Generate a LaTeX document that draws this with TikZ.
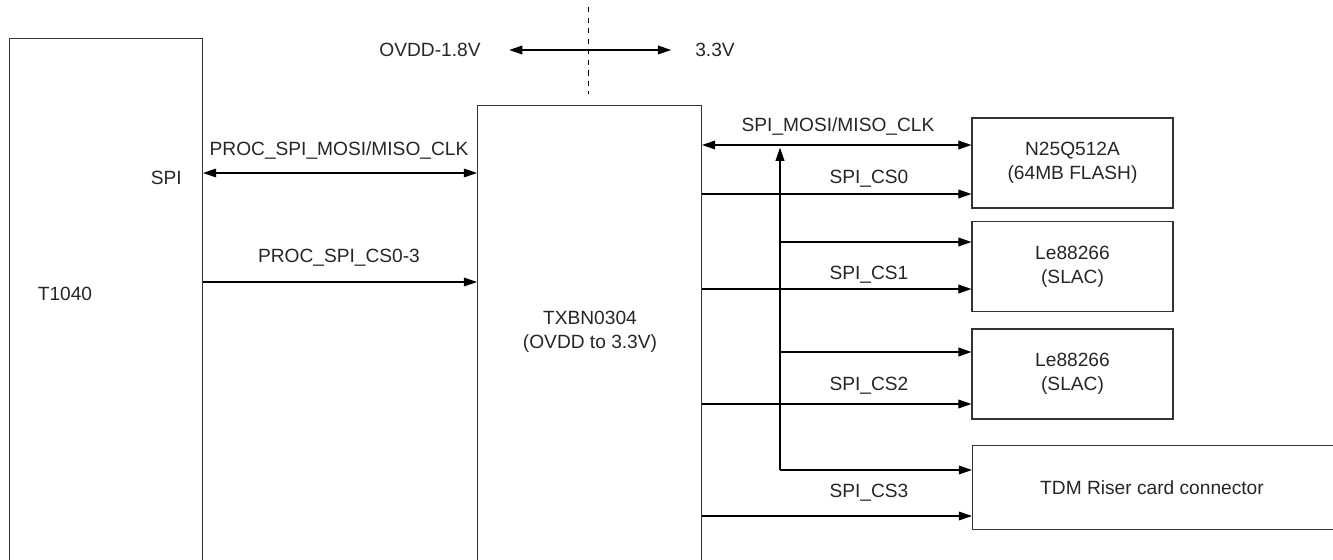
\documentclass[tikz,border=0pt]{standalone}
\usepackage{fontspec}
\setmainfont{Liberation Sans}
\usetikzlibrary{arrows.meta,positioning}

\tikzset{
  blk/.style={draw=black!80, line width=0.6pt, inner sep=0pt},
  lbl/.style={font=\fontsize{10.9}{13.5}\selectfont, text=black!85, align=center},
  sig/.style={line width=0.6pt, -{Triangle[length=7.5pt,width=5pt]}},
  bisig/.style={line width=0.6pt, {Triangle[length=7.5pt,width=5pt]}-{Triangle[length=7.5pt,width=5pt]}},
}

\begin{document}
\begin{tikzpicture}
    \useasboundingbox (0,0) rectangle (26.66,11.2);
    \clip (0,0) rectangle (26.66,11.2);

    % Processor and level shifter (bottoms run off the page)
    \node[blk, anchor=north west, minimum width=3.86cm, minimum height=11cm] (t1040) at (0.18,10.44) {};
    \node[blk, anchor=north west, minimum width=4.48cm, minimum height=10cm] (txbn) at (9.54,9.1) {};
    \node[lbl] (t1040lbl) at (1.3,5.32) {T1040};
    \node[lbl, anchor=east] (spilbl) at (3.76,7.64) {SPI};
    \node[lbl] (txbnlbl) at (11.8,4.56) {TXBN0304\\(OVDD to 3.3V)};

    % Devices on the right
    \node[blk, lbl, minimum width=4.02cm, minimum height=1.8cm] (flash) at (21.45,7.94) {N25Q512A\\(64MB FLASH)};
    \foreach \nm/\y in {le1/5.87, le2/3.72}
        \node[blk, lbl, minimum width=4.02cm, minimum height=1.8cm] (\nm) at (21.45,\y) {Le88266\\(SLAC)};
    \node[blk, anchor=north west, minimum width=8cm, minimum height=1.68cm] (tdm) at (19.44,2.3) {};
    \node[lbl] (tdmlbl) at (23.04,1.44) {TDM Riser card connector};

    % Voltage domains
    \coordinate (divtop) at (11.76,11.06);
    \coordinate (divbot) at (11.76,9.32);
    \draw[dashed, line width=0.5pt] (divtop) -- (divbot);
    \node[lbl] (ovdd) at (8.6,10.2) {OVDD-1.8V};
    \node[lbl] (v33) at (14.3,10.2) {3.3V};
    \draw[bisig] ([xshift=0.45cm]ovdd.east) -- ([xshift=-0.36cm]v33.west);

    % Processor side
    \coordinate (mosiL) at (0,7.74);
    \coordinate (csL) at (0,5.56);
    \draw[bisig] (t1040.east |- mosiL) -- (txbn.west |- mosiL);
    \draw[sig] (t1040.east |- csL) -- (txbn.west |- csL);
    \node[lbl] (mosiLlbl) at (6.78,8.2) {PROC\_SPI\_MOSI/MISO\_CLK};
    \node[lbl] (csLlbl) at (6.78,6.04) {PROC\_SPI\_CS0-3};

    % Device side
    \coordinate (mosiR) at (0,8.3);
    \coordinate (busbot) at (15.6,1.8);
    \draw[bisig] (txbn.east |- mosiR) -- (flash.west |- mosiR);
    \node[lbl] (mosiRlbl) at (16.76,8.68) {SPI\_MOSI/MISO\_CLK};
    \draw[sig, shorten >=1.5pt] (busbot) -- (busbot |- mosiR);
    \foreach \nm/\y in {le1/6.36, le2/4.16, tdm/1.8}
        \draw[sig] (busbot |- 0,\y) -- (\nm.west |- 0,\y);
    \foreach \nm/\y/\ly/\k in {flash/7.32/7.62/0, le1/5.42/5.7/1, le2/3.12/3.48/2, tdm/0.88/1.34/3} {
        \draw[sig] (txbn.east |- 0,\y) -- (\nm.west |- 0,\y);
        \node[lbl] (cs\k) at (17.38,\ly) {SPI\_CS\k};
    }
\end{tikzpicture}
\end{document}
